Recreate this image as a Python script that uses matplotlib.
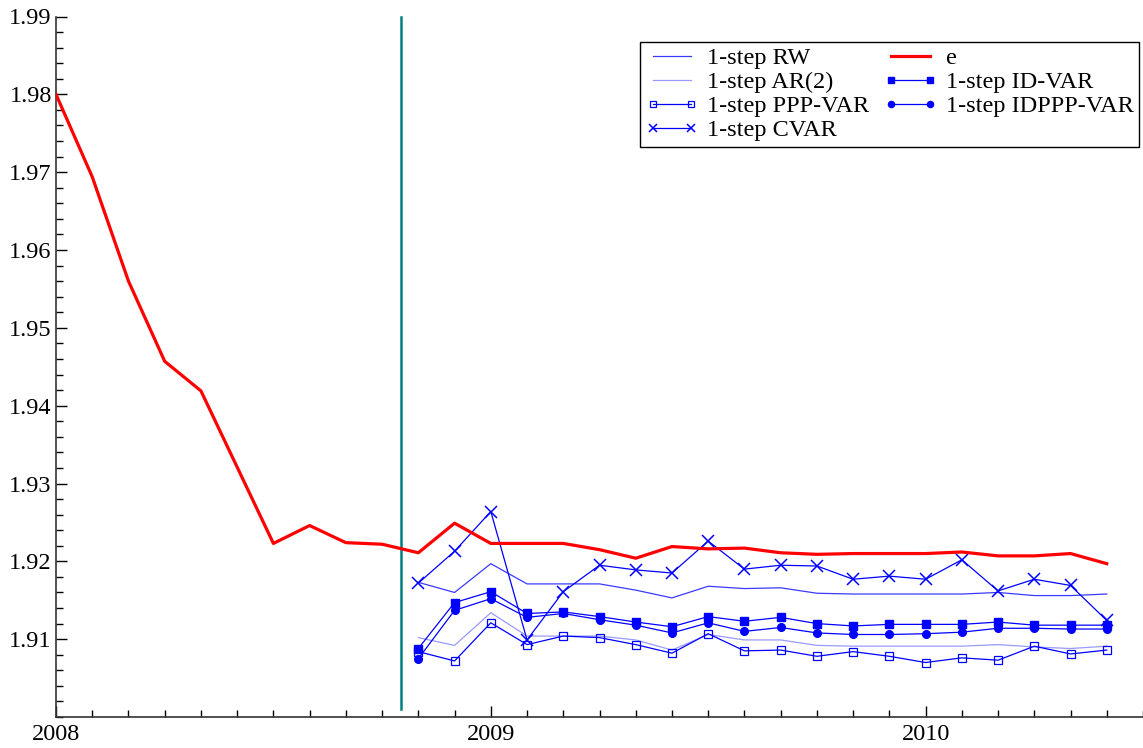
import matplotlib
matplotlib.use("Agg")
import matplotlib.pyplot as plt
from matplotlib.ticker import MultipleLocator, FixedLocator
import numpy as np

# Monthly observations starting January 2008
start_year = 2008
e_values = [1.9800, 1.9694, 1.9560, 1.9457, 1.9419, 1.9321, 1.9223, 1.9246,
            1.9224, 1.9222, 1.9211, 1.9249, 1.9223, 1.9223, 1.9223, 1.9215,
            1.9204, 1.9219, 1.9216, 1.9217, 1.9211, 1.9209, 1.9210, 1.9210,
            1.9210, 1.9212, 1.9207, 1.9207, 1.9210, 1.9197]

# One-step-ahead forecasts, November 2008 onwards (month index 10..29)
forecast_start = 10
rw = [1.9173, 1.9160, 1.9197, 1.9171, 1.9171, 1.9171, 1.9163, 1.9153, 1.9168, 1.9165,
      1.9166, 1.9159, 1.9158, 1.9158, 1.9158, 1.9158, 1.9160, 1.9156, 1.9156, 1.9158]
ar2 = [1.9102, 1.9092, 1.9134, 1.9104, 1.9104, 1.9104, 1.9099, 1.9086, 1.9106, 1.9099,
       1.9099, 1.9092, 1.9091, 1.9091, 1.9091, 1.9091, 1.9093, 1.9090, 1.9088, 1.9091]
ppp_var = [1.9084, 1.9072, 1.9121, 1.9093, 1.9104, 1.9102, 1.9093, 1.9082, 1.9107, 1.9085,
           1.9086, 1.9078, 1.9084, 1.9078, 1.9070, 1.9076, 1.9073, 1.9091, 1.9081, 1.9086]
cvar = [1.9172, 1.9213, 1.9264, 1.9099, 1.9161, 1.9195, 1.9189, 1.9185, 1.9226, 1.9190,
        1.9195, 1.9194, 1.9177, 1.9181, 1.9177, 1.9202, 1.9162, 1.9177, 1.9169, 1.9124]
id_var = [1.9088, 1.9147, 1.9161, 1.9133, 1.9135, 1.9129, 1.9122, 1.9116, 1.9129, 1.9123,
          1.9128, 1.9120, 1.9117, 1.9119, 1.9119, 1.9119, 1.9122, 1.9118, 1.9118, 1.9118]
idppp_var = [1.9075, 1.9137, 1.9152, 1.9128, 1.9133, 1.9125, 1.9118, 1.9108, 1.9121, 1.9110,
             1.9115, 1.9108, 1.9106, 1.9106, 1.9107, 1.9109, 1.9114, 1.9114, 1.9113, 1.9113]

year_ticks = [2008, 2009, 2010]
y_ticks = [1.91, 1.92, 1.93, 1.94, 1.95, 1.96, 1.97, 1.98, 1.99]
split_month = 9.52

plt.rcParams['font.family'] = ['Liberation Serif', 'DejaVu Serif']

t_all = start_year + np.arange(len(e_values)) / 12.0
t_fc = start_year + (forecast_start + np.arange(len(rw))) / 12.0

fig = plt.figure(figsize=(11.43, 7.48), dpi=100)
ax = fig.add_axes([56 / 1143, 1 - 717 / 748, 1 - 56 / 1143, (717 - 16.5) / 748])

blue = '#0000ff'
lw = 0.9
ax.plot(t_fc, rw, color='#3a3aff', lw=lw, label='1-step RW', zorder=3)
ax.plot(t_fc, ar2, color='#9a9aff', lw=lw, label='1-step AR(2)', zorder=3)
ax.plot(t_fc, ppp_var, color=blue, lw=lw, marker='s', ms=6, mfc='none', mew=0.9,
        label='1-step PPP-VAR', zorder=3)
ax.plot(t_fc, cvar, color=blue, lw=lw, marker='x', ms=8, mew=1.1,
        label='1-step CVAR', zorder=3)
ax.plot(t_all, e_values, color='#ff0000', lw=2.3, label='e', zorder=4)
ax.plot(t_fc, id_var, color=blue, lw=lw, marker='s', ms=5.5,
        label='1-step ID-VAR', zorder=3)
ax.plot(t_fc, idppp_var, color=blue, lw=lw, marker='o', ms=5.5,
        label='1-step IDPPP-VAR', zorder=3)

# Vertical marker at the end of the estimation sample
x_split = start_year + split_month / 12.0
ax.plot([x_split, x_split], [1.901, 1.99], color='#008080', lw=1.8, zorder=2)

ax.set_xlim(start_year, start_year + 30 / 12.0)
ax.set_ylim(1.90, 1.99)

ax.xaxis.set_major_locator(FixedLocator(year_ticks))
ax.xaxis.set_minor_locator(MultipleLocator(1 / 12.0))
ax.set_xticklabels([str(y) for y in year_ticks])
ax.yaxis.set_major_locator(FixedLocator(y_ticks))
ax.yaxis.set_minor_locator(MultipleLocator(0.002))
ax.set_yticklabels([f'{v:.2f}' for v in y_ticks])

ax.tick_params(axis='both', which='both', direction='in', labelsize=17.5, colors='black')
ax.tick_params(axis='y', which='major', length=8, width=1, pad=3)
ax.tick_params(axis='y', which='minor', length=5, width=1)
ax.tick_params(axis='x', which='major', length=8, width=1, pad=5)
ax.tick_params(axis='x', which='minor', length=5, width=1)

for side in ('top', 'right'):
    ax.spines[side].set_visible(False)
for side in ('left', 'bottom'):
    ax.spines[side].set_linewidth(1.2)
    ax.spines[side].set_color('#333333')

leg = ax.legend(ncol=2, loc='upper right', bbox_to_anchor=(1139 / 1143, 1 - 42 / 748),
                bbox_transform=fig.transFigure, fontsize=17.5, frameon=True,
                fancybox=False, edgecolor='black', framealpha=1, borderaxespad=0,
                handlelength=2.2, handletextpad=0.35, columnspacing=0.6,
                labelspacing=0.08, numpoints=2, borderpad=0.22, markerscale=0.8)
leg.get_frame().set_linewidth(1.0)

fig.savefig('out.png', dpi=100)
